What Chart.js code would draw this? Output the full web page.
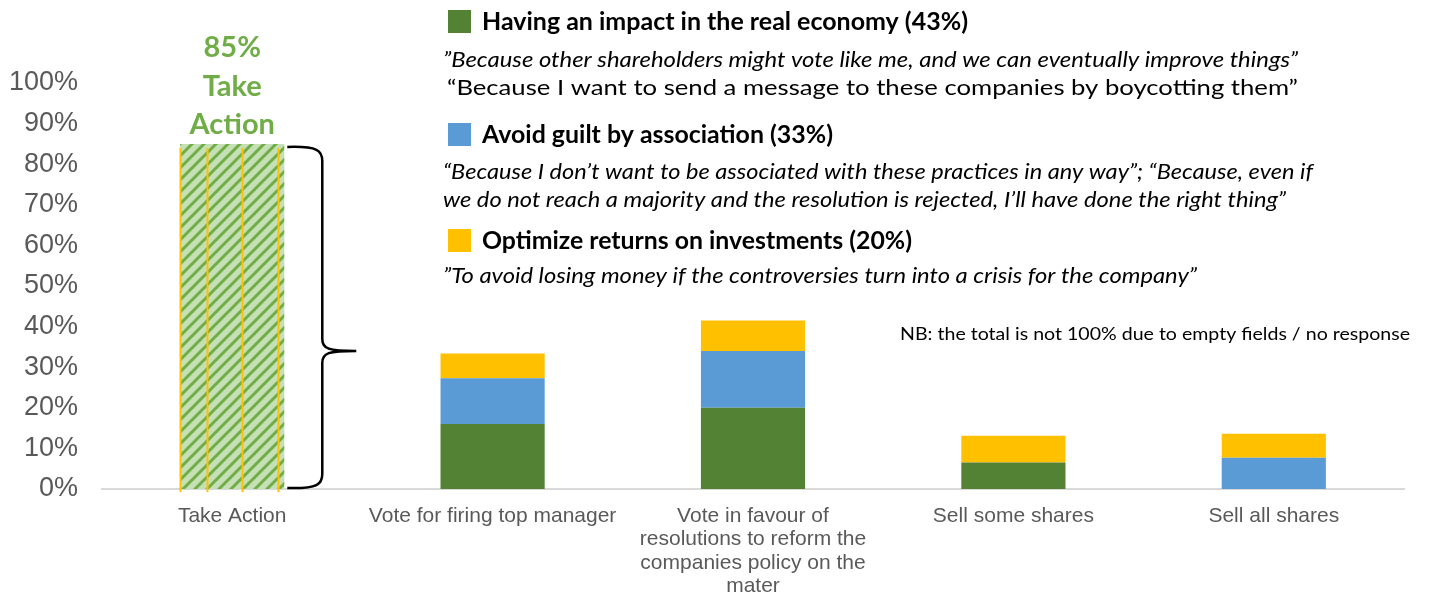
<!DOCTYPE html>
<html>
<head>
<meta charset="utf-8">
<script src="https://cdn.jsdelivr.net/npm/chart.js@4.4.1/dist/chart.umd.min.js"></script>
<style>
  html, body { margin: 0; padding: 0; background: #fff; }
  #wrap { width: 1429px; height: 600px; position: relative; }
</style>
</head>
<body>
<div id="wrap"><canvas id="reasons" width="1429" height="600"></canvas></div>
<script>
// categories and values (% of respondents)
const categories = [
    'Take Action',
    'Vote for firing top manager',
    ['Vote in favour of', 'resolutions to reform the', 'companies policy on the', 'mater'],
    'Sell some shares',
    'Sell all shares'
];
const takeAction = [85, 0, 0, 0, 0];
const impact = [0, 16, 20, 6.5, 0];
const guilt = [0, 11.3, 14, 0, 7.7];
const returns = [0, 6.1, 7.5, 6.6, 5.9];
const yTicks = [0, 10, 20, 30, 40, 50, 60, 70, 80, 90, 100];

// reasons given, with share of answers
const reasonNames = ['Having an impact in the real economy', 'Avoid guilt by association', 'Optimize returns on investments'];
const reasonShares = [43, 33, 20];
const quotes = [
    ['\u201DBecause other shareholders might vote like me, and we can eventually improve things\u201D',
     '\u201CBecause I want to send a message to these companies by boycotting them\u201D'],
    ['\u201CBecause I don\u2019t want to be associated with these practices in any way\u201D; \u201CBecause, even if',
     'we do not reach a majority and the resolution is rejected, I\u2019ll have done the right thing\u201D'],
    ['\u201DTo avoid losing money if the controversies turn into a crisis for the company\u201D']
];
const note = 'NB: the total is not 100% due to empty fields / no response';

const GREEN = '#548235', BLUE = '#5b9bd5', YELLOW = '#ffc000', LIGHT = '#70ad47';

// hatched fill for the "Take Action" bar
function makeHatch() {
    const s = 12;
    const c = document.createElement('canvas');
    c.width = s; c.height = s;
    const g = c.getContext('2d');
    g.fillStyle = '#c5e0b4';
    g.fillRect(0, 0, s, s);
    g.strokeStyle = LIGHT;
    g.lineWidth = 3;
    g.beginPath();
    g.moveTo(-2, s + 2); g.lineTo(s + 2, -2);
    g.moveTo(-s - 2, s + 2); g.lineTo(2, -2);
    g.moveTo(s - 2, s + 2); g.lineTo(2 * s + 2, -2);
    g.stroke();
    return g.createPattern(c, 'repeat');
}

// draw text squeezed/stretched to a given width
function fitText(ctx, text, x, y, width, font, color) {
    ctx.save();
    ctx.font = font;
    ctx.fillStyle = color;
    ctx.textBaseline = 'middle';
    ctx.textAlign = 'left';
    const w = ctx.measureText(text).width;
    ctx.translate(x, y);
    ctx.scale(width / w, 1);
    ctx.fillText(text, 0, 0);
    ctx.restore();
}

const overlay = {
    id: 'overlay',
    afterDatasetsDraw(chart) {
        const ctx = chart.ctx;
        const y = chart.scales.y;
        const bar = chart.getDatasetMeta(0).data[0];
        const left = bar.x - bar.width / 2;
        const top = bar.y;
        const base = y.getPixelForValue(0);

        // orange rules across the hatched bar
        ctx.save();
        ctx.strokeStyle = YELLOW;
        ctx.lineWidth = 2;
        [0.0, 0.255, 0.59, 0.935].forEach(f => {
            const x = Math.round(left + bar.width * f) + 0.5;
            ctx.beginPath();
            ctx.moveTo(x, top + 4);
            ctx.lineTo(x, base + 3);
            ctx.stroke();
        });
        ctx.restore();

        // label above the bar
        ctx.save();
        ctx.fillStyle = LIGHT;
        ctx.font = 'bold 29px Lato';
        ctx.textAlign = 'center';
        ctx.textBaseline = 'middle';
        const lbl = [takeAction[0] + '%', 'Take', 'Action'];
        lbl.forEach((t, i) => ctx.fillText(t, bar.x, top - 96 + i * 38.5));
        ctx.restore();

        // curly brace from bar top down to the baseline
        const bx0 = bar.x + bar.width / 2 + 3;
        const bx1 = bx0 + 35;
        const tipX = bx0 + 69;
        const yTop = top + 3, yBot = base - 1;
        const yMid = yTop + (yBot - yTop) * 0.598;
        ctx.save();
        ctx.strokeStyle = '#000';
        ctx.lineWidth = 2.5;
        ctx.beginPath();
        ctx.moveTo(bx0, yTop);
        ctx.bezierCurveTo(bx1 - 4, yTop - 1, bx1, yTop + 4, bx1, yTop + 14);
        ctx.lineTo(bx1, yMid - 12);
        ctx.bezierCurveTo(bx1, yMid - 2, bx1 + 6, yMid, tipX, yMid);
        ctx.moveTo(tipX, yMid);
        ctx.bezierCurveTo(bx1 + 6, yMid, bx1, yMid + 2, bx1, yMid + 12);
        ctx.lineTo(bx1, yBot - 14);
        ctx.bezierCurveTo(bx1, yBot - 4, bx1 - 4, yBot + 1, bx0, yBot);
        ctx.stroke();
        ctx.restore();

        // reasons block with colour keys and quotes
        const keyColors = [GREEN, BLUE, YELLOW];
        const heads = [{y: 22, w: 486}, {y: 135, w: 351}, {y: 241, w: 430}];
        const lines = [
            [{y: 60, x: 443, w: 855, it: true}, {y: 88, x: 447, w: 851, it: false}],
            [{y: 172, x: 443, w: 870, it: true}, {y: 200, x: 443, w: 843, it: true}],
            [{y: 276, x: 443, w: 754, it: true}]
        ];
        reasonNames.forEach((name, i) => {
            const h = heads[i];
            ctx.fillStyle = keyColors[i];
            ctx.fillRect(448, h.y - 12, 23, 23);
            fitText(ctx, name + ' (' + reasonShares[i] + '%)', 482, h.y, h.w, 'bold 24px Lato', '#000');
            quotes[i].forEach((q, j) => {
                const l = lines[i][j];
                fitText(ctx, q, l.x, l.y, l.w, (l.it ? 'italic ' : '') + '21px Lato', '#000');
            });
        });

        fitText(ctx, note, 900, 335, 510, '17px Lato', '#000');
    }
};

const ctx = document.getElementById('reasons').getContext('2d');
const reasonsChart = new Chart(ctx, {
    type: 'bar',
    data: {
        labels: categories,
        datasets: [
            { label: 'Take Action', data: takeAction, backgroundColor: makeHatch() },
            { label: reasonNames[0], data: impact, backgroundColor: GREEN },
            { label: reasonNames[1], data: guilt, backgroundColor: BLUE },
            { label: reasonNames[2], data: returns, backgroundColor: YELLOW }
        ]
    },
    options: {
        responsive: false,
        animation: false,
        layout: { padding: { top: 83, right: 25, left: 0, bottom: 0 } },
        datasets: { bar: { categoryPercentage: 0.8, barPercentage: 0.5, borderWidth: 0 } },
        scales: {
            x: {
                stacked: true,
                grid: { display: false, drawTicks: false },
                border: { display: true, color: '#d9d9d9', width: 2 },
                ticks: {
                    color: '#595959',
                    font: { family: 'Liberation Sans', size: 21, lineHeight: 1.12 },
                    padding: 15,
                    maxRotation: 0,
                    autoSkip: false
                },
                afterFit(scale) { scale.height = 111; }
            },
            y: {
                stacked: true,
                min: 0,
                max: 100,
                grid: { display: false, drawTicks: false },
                border: { display: false },
                afterBuildTicks(scale) { scale.ticks = yTicks.map(v => ({ value: v })); },
                ticks: {
                    color: '#595959',
                    font: { family: 'Liberation Sans', size: 27 },
                    padding: 24,
                    callback: v => v + '%'
                },
                afterFit(scale) { scale.width = 102; }
            }
        },
        plugins: {
            legend: { display: false },
            tooltip: { enabled: false }
        }
    },
    plugins: [overlay]
});
</script>
</body>
</html>
